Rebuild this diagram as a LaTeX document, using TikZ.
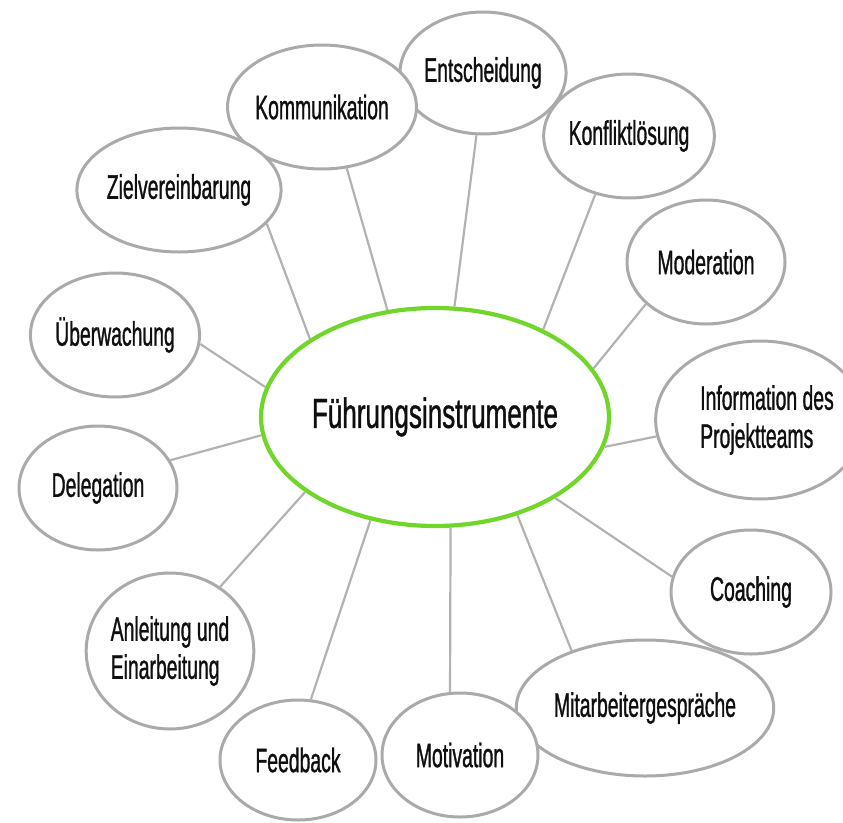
\documentclass[tikz,border=0pt]{standalone}
\usepackage{fontspec}
\setmainfont{Liberation Sans}
\newfontfamily\leafFont[FakeStretch=0.57,FakeBold=0.9]{Liberation Sans}
\newfontfamily\hubFont[FakeStretch=0.62,FakeBold=0.9]{Liberation Sans}
\usetikzlibrary{shapes.geometric}
\definecolor{hubgreen}{RGB}{112,214,42}
\definecolor{rimgray}{RGB}{170,170,170}
\definecolor{spokegray}{RGB}{178,178,178}
\definecolor{inkblack}{RGB}{15,15,15}

\tikzset{
  leaf/.style={ellipse, draw=rimgray, line width=3pt, fill=white, inner sep=0pt,
    text=inkblack, align=left, font=\leafFont\fontsize{34}{38}\selectfont},
  hub/.style={ellipse, draw=hubgreen, line width=4.2pt, fill=white, inner sep=0pt,
    text=inkblack, font=\hubFont\fontsize{42}{46}\selectfont},
  spoke/.style={draw=spokegray, line width=2.2pt}
}

\begin{document}
\begin{tikzpicture}[x=1pt, y=-1pt]
        \useasboundingbox (0,0) rectangle (843,822);

        % centre
        \node[hub, minimum width=294pt, minimum height=218pt] (fi) at (435,417) {Führungsinstrumente};

        % upper half
        \node[leaf, minimum width=156pt, minimum height=122pt] (entsch) at (483,73) {Entscheidung};
        \node[leaf, minimum width=156pt, minimum height=124pt] (komm) at (322,107) {Kommunikation};
        \node[leaf, minimum width=176pt, minimum height=124pt] (ziel) at (179,190) {Zielvereinbarung};
        \node[leaf, minimum width=156pt, minimum height=124pt] (konfl) at (629,136) {Konfliktlösung};
        \node[leaf, minimum width=158pt, minimum height=124pt] (mod) at (706,262) {Moderation};
        \node[leaf, minimum width=158pt, minimum height=124pt] (ueber) at (115,335) {Überwachung};
        \node[leaf, minimum width=164pt, minimum height=158pt] (info) at (760,420) {\hspace*{14pt}Information des\\\hspace*{14pt}Projektteams};

        % lower half
        \node[leaf, minimum width=158pt, minimum height=124pt] (deleg) at (98,488) {Delegation};
        \node[leaf, minimum width=160pt, minimum height=124pt] (coach) at (751,592) {Coaching};
        \node[leaf, minimum width=164pt, minimum height=156pt] (anl) at (170,651) {Anleitung und\\Einarbeitung};
        \node[leaf, minimum width=206pt, minimum height=136pt] (mag) at (645,708) {Mitarbeitergespräche};
        \node[leaf, minimum width=156pt, minimum height=124pt] (motiv) at (460,755) {Motivation};
        \node[leaf, minimum width=156pt, minimum height=120pt] (feed) at (298,760) {Feedback};

        % spokes: node / angle at centre / angle at leaf
        \foreach \n/\a/\b in {komm/114/-68, entsch/80/-96, ziel/148/-21, konfl/39/-120,
                              mod/17/-145, ueber/170/-6, info/-10/189, deleg/186/21,
                              coach/-34/169, anl/210/52, mag/-50/142, motiv/-82/99,
                              feed/-122/78}
          \draw[spoke] (fi.\a) -- (\n.\b);
      \end{tikzpicture}
\end{document}
